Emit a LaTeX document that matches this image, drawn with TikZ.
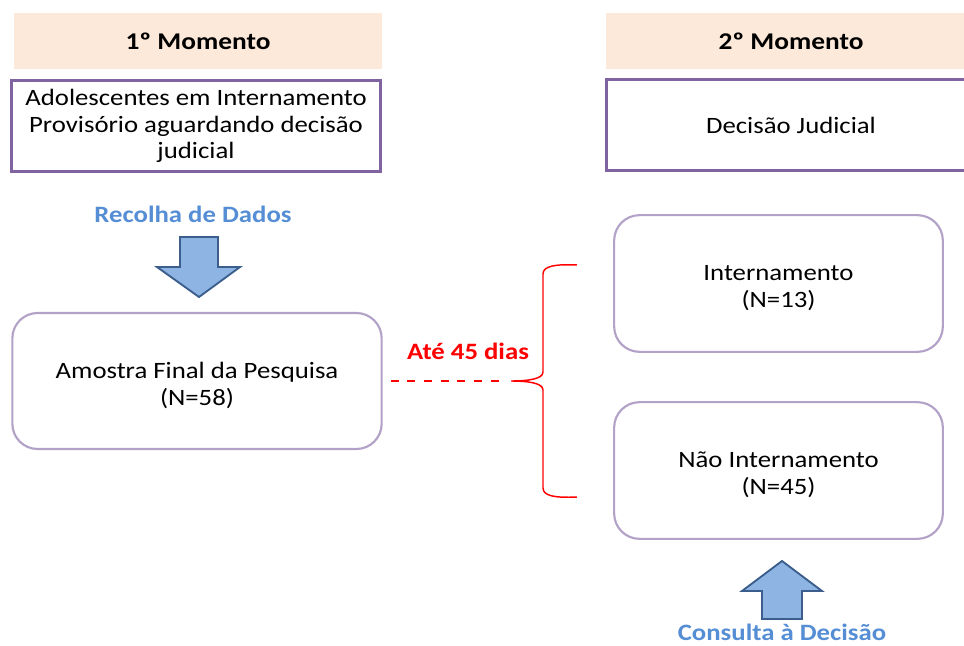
\documentclass[tikz,border=0pt]{standalone}
\usepackage{fontspec}
\setmainfont[FakeStretch=1.14]{Carlito}
\definecolor{peach}{HTML}{FDE9D9}
\definecolor{boxpurple}{HTML}{8064A2}
\definecolor{lightpurple}{HTML}{B3A2C7}
\definecolor{bluetext}{HTML}{558ED5}
\definecolor{arrowfill}{HTML}{8EB4E3}
\definecolor{arrowline}{HTML}{3B5E8C}
\newcommand{\lowerfirst}{\rule{0pt}{18.5pt}}
\begin{document}
\begin{tikzpicture}[x=0.75pt,y=-0.75pt,
  font=\fontsize{17.6}{20}\selectfont,
  header/.style={fill=peach, draw=none, minimum width=276pt, minimum height=42pt, inner sep=0pt, font=\fontsize{18}{20}\selectfont\bfseries},
  rectbox/.style={draw=boxpurple, line width=1.8pt, fill=white, minimum width=277pt, minimum height=68pt, align=center, inner sep=0pt},
  roundbox/.style={draw=lightpurple, line width=1.6pt, rounded corners=19pt, fill=white, align=center, inner sep=0pt},
  bluelabel/.style={text=bluetext, font=\fontsize{17.6}{20}\selectfont\bfseries},
  bigarrow/.style={fill=arrowfill, draw=arrowline, line width=1.4pt, line join=miter},
]
\clip (0,0) rectangle (964,646);
\fill[white] (0,0) rectangle (964,646);

% headers
\node[header] (h1) at (198,41) {1º Momento};
\node[header, minimum width=277.5pt] (h2) at (791,41) {2º Momento};

% top boxes
\node[rectbox] (b1) at (196,126) {Adolescentes em Internamento\\Provisório aguardando decisão\\judicial};
\node[rectbox] (b2) at (791,125) {Decisão Judicial};

% label and down arrow
\node[bluelabel] (recolha) at (193,214) {Recolha de Dados};
\draw[bigarrow] (180,237) -- (218,237) -- (218,267) -- (240,267) -- (199,297) -- (157,267) -- (180,267) -- cycle;

% sample box
\node[roundbox, minimum width=277pt, minimum height=102pt] (amostra) at (197,381) {\lowerfirst Amostra Final da Pesquisa\\(N=58)};

% outcome boxes
\node[roundbox, minimum width=246.5pt, minimum height=102.5pt] (intern) at (778.5,283.5) {\lowerfirst Internamento\\(N=13)};
\node[roundbox, minimum width=246.5pt, minimum height=102.5pt] (naoint) at (778.5,470.5) {\lowerfirst Não Internamento\\(N=45)};

% dashed connector and label
\coordinate (dashend) at (502,381);
\draw[red, line width=1.6pt, dash pattern=on 6pt off 6.5pt] ([xshift=6pt]amostra.east) -- (dashend);
\node[text=red, font=\fontsize{17.6}{20}\selectfont\bfseries] (ate) at (468,351) {Até 45 dias};

% brace
\coordinate (btop) at (577,265);
\coordinate (bbot) at (577,497);
\coordinate (btip) at (511,381);
\draw[red, line width=1.1pt, line join=round]
  (btop) .. controls (555,264) and (543,266) .. (543,274)
  -- (543,372) .. controls (543,379) and (528,381) .. (btip)
  (btip) .. controls (528,381) and (543,383) .. (543,390)
  -- (543,488) .. controls (543,496) and (555,498) .. (bbot);

% up arrow and label
\draw[bigarrow] (782,561) -- (822,591) -- (802,591) -- (802,619) -- (762,619) -- (762,591) -- (742,591) -- cycle;
\node[bluelabel] (consulta) at (782,632) {Consulta à Decisão};
\end{tikzpicture}
\end{document}
